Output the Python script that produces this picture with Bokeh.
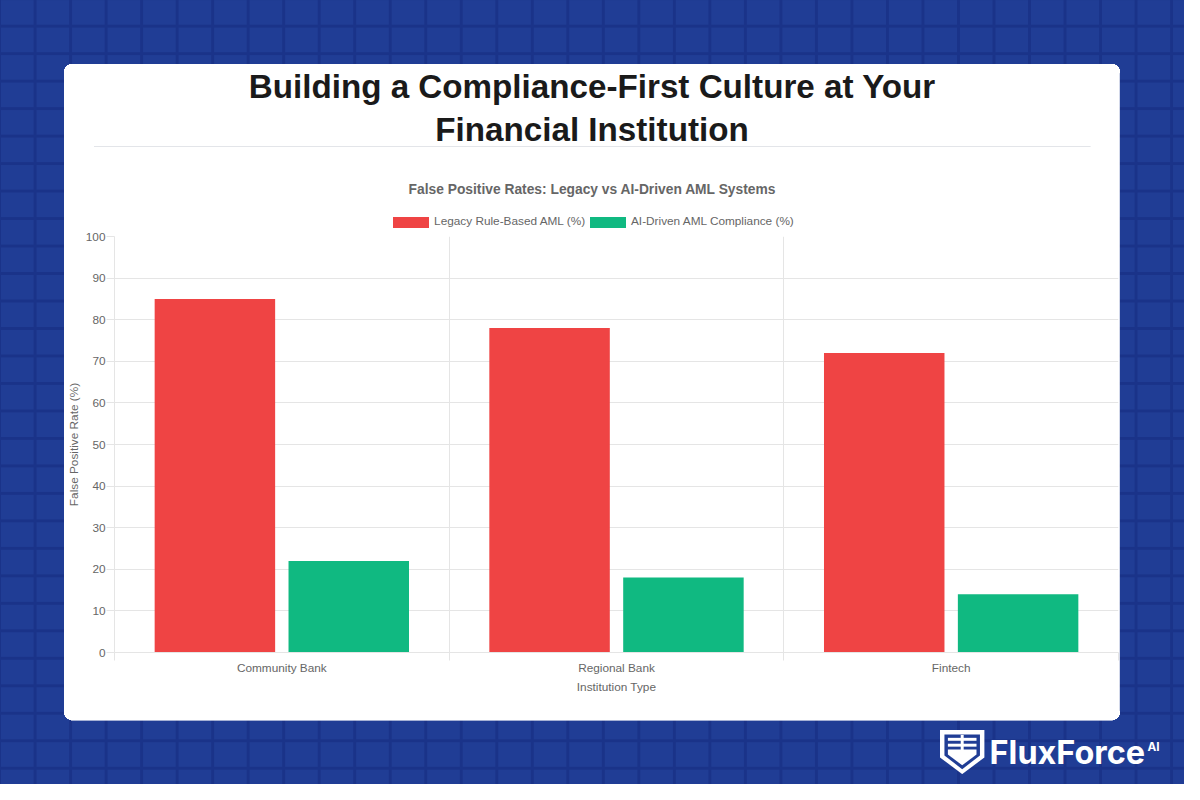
from bokeh.plotting import figure
from bokeh.layouts import column
from bokeh.models import (Range1d, FixedTicker, Div, InlineStyleSheet, ColumnDataSource)
from bokeh.embed import file_html
from bokeh.resources import INLINE

# ---------------- data ----------------
categories = ["Community Bank", "Regional Bank", "Fintech"]
legacy_rule_based = [85, 78, 72]
ai_driven = [22, 18, 14]
series_names = ["Legacy Rule-Based AML (%)", "AI-Driven AML Compliance (%)"]
y_ticks = [0, 10, 20, 30, 40, 50, 60, 70, 80, 90, 100]

main_title = ["Building a Compliance-First Culture at Your", "Financial Institution"]
chart_title = "False Positive Rates: Legacy vs AI-Driven AML Systems"
x_title = "Institution Type"
y_title = "False Positive Rate (%)"
brand = "FluxForce"
brand_sup = "AI"

RED = "#ef4444"
GREEN = "#10b981"
GRID = "#e5e5e5"
TXT = "#666666"
FONT = "Liberation Sans"
BLUE = "#203d95"

W, H = 1184, 784
SX, SY, FS = W / 1200.0, H / 800.0, 0.983
H_HEAD, H_CHART = 229, 496
H_FOOT = H - H_HEAD - H_CHART


def px(v):
    return "%.1fpx" % (v * FS)


def fx(rx):
    return rx * SX


def fy(ry):
    return ry * SY


# ---------------- header (titles + legend) ----------------
def text_div(txt, top, size, weight, color, left=None, font=FONT, center=False):
    pos = ("left:0;width:%dpx;text-align:center;" % W) if center else ("left:%.1fpx;" % left)
    return ('<div style="position:absolute;%stop:%.1fpx;font-family:\'%s\';font-size:%s;'
            'font-weight:%s;line-height:1;white-space:nowrap;color:%s">%s</div>'
            % (pos, top, font, px(size), weight, color, txt))


def top_for(baseline, size, asc=0.8465):
    return baseline - asc * size * FS


head_html = ['<div style="position:relative;width:%dpx;height:%dpx;overflow:hidden">' % (W, H_HEAD)]
head_html.append(text_div(main_title[0], top_for(fy(100), 33.8), 33.8, "bold", "#1a1a1a", center=True))
head_html.append(text_div(main_title[1], top_for(fy(144), 33.8), 33.8, "bold", "#1a1a1a", center=True))
head_html.append(text_div(chart_title, top_for(fy(199), 14), 14, "bold", TXT, center=True))
legend_colors = [RED, GREEN]
legend_box_x = [398.3, 598.3]
legend_txt_x = [440.0, 639.5]
for name, col, bx, tx in zip(series_names, legend_colors, legend_box_x, legend_txt_x):
    head_html.append('<div style="position:absolute;left:%.1fpx;top:%.1fpx;width:%.1fpx;height:%.1fpx;'
                     'background:%s"></div>' % (fx(bx), fy(221), 36 * SX, 12 * SY, col))
    head_html.append(text_div(name, top_for(fy(231), 12), 12, "normal", TXT, left=fx(tx)))
head_html.append('</div>')
head = Div(text="".join(head_html), width=W, height=H_HEAD, margin=0)

# ---------------- chart ----------------
n = len(categories)
p = figure(width=W, height=H_CHART, output_backend="svg", toolbar_location=None,
           x_range=Range1d(0, n), y_range=Range1d(0, 100),
           min_border_left=114, min_border_right=66,
           min_border_top=7, min_border_bottom=73, margin=0)
p.border_fill_color = None
p.background_fill_color = "white"
p.outline_line_color = None

idx = list(range(n))
src = ColumnDataSource(dict(
    x_leg=[i + 0.3 for i in idx],
    x_ai=[i + 0.7 for i in idx],
    legacy=legacy_rule_based,
    ai=ai_driven,
))
p.vbar(x="x_leg", top="legacy", width=0.36, source=src, fill_color=RED, line_color=None)
p.vbar(x="x_ai", top="ai", width=0.36, source=src, fill_color=GREEN, line_color=None)

p.xgrid.ticker = FixedTicker(ticks=idx + [n])
p.ygrid.ticker = FixedTicker(ticks=y_ticks)
p.grid.grid_line_color = GRID

xa = p.xaxis[0]
xa.ticker = FixedTicker(ticks=[i + 0.5 for i in idx], minor_ticks=idx + [n])
xa.major_label_overrides = {i + 0.5: c for i, c in enumerate(categories)}
xa.major_tick_out = 8
xa.major_tick_in = 0
xa.major_tick_line_color = None
xa.minor_tick_out = 8
xa.minor_tick_in = 0
xa.minor_tick_line_color = GRID
xa.axis_line_color = GRID
xa.major_label_standoff = 0
xa.axis_label = x_title
xa.axis_label_standoff = 2

ya = p.yaxis[0]
ya.ticker = FixedTicker(ticks=y_ticks)
ya.major_tick_out = 8
ya.major_tick_in = 0
ya.major_tick_line_color = GRID
ya.minor_tick_line_color = None
ya.axis_line_color = GRID
ya.major_label_standoff = 1
ya.axis_label = y_title
ya.axis_label_standoff = 2

for ax in (xa, ya):
    ax.major_label_text_font = FONT
    ax.major_label_text_font_size = px(12)
    ax.major_label_text_color = TXT
    ax.axis_label_text_font = FONT
    ax.axis_label_text_font_size = px(12)
    ax.axis_label_text_font_style = "normal"
    ax.axis_label_text_color = TXT

# ---------------- footer (logo) ----------------
top_f = H_HEAD + H_CHART
shield = (
    '<svg style="position:absolute;left:%.1fpx;top:%.1fpx" width="%.1f" height="%.1f" '
    'viewBox="953 745 45 45" preserveAspectRatio="none">'
    '<polygon points="953,745 998,745 998,773 975.5,790 953,773" fill="#ffffff"/>'
    '<polygon points="957.5,749.5 993.5,749.5 993.5,771 975.5,785 957.5,771" fill="%s"/>'
    '<rect x="961" y="753" width="29" height="3" fill="#ffffff"/>'
    '<rect x="961" y="759" width="29" height="3" fill="#ffffff"/>'
    '<rect x="974" y="750" width="3" height="16" fill="#ffffff"/>'
    '<polygon points="961,765 990,765 990,770 975.5,781 961,770" fill="#ffffff"/>'
    '</svg>' % (fx(953), fy(745) - top_f, 45 * SX, 45 * SY, BLUE)
)
foot_html = ['<div style="position:relative;width:%dpx;height:%dpx;overflow:hidden">' % (W, H_FOOT), shield]
foot_html.append(text_div(brand, top_for(fy(781), 33, 0.864) - top_f, 33, "bold", "#ffffff",
                          left=fx(1003), font="Inter"))
foot_html.append(text_div(brand_sup, top_for(fy(767), 12, 0.864) - top_f, 12, "bold", "#ffffff",
                          left=fx(1163), font="Inter"))
foot_html.append('</div>')
foot = Div(text="".join(foot_html), width=W, height=H_FOOT, margin=0)

# background: blue tiles, white rounded card, separator rule
cx, cy, cw, ch, r = 64.1, 63.7, 1055.8, 656.6, 7
circ = "radial-gradient(circle closest-side, #ffffff 96%, rgba(255,255,255,0) 100%)"
layers = [
    ("linear-gradient(#e3e5e9, #e3e5e9)", "996.6px 1px", "93.7px 145.5px", "no-repeat"),
    ("linear-gradient(#ffffff, #ffffff)", "%.1fpx %.1fpx" % (cw - 2 * r, ch), "%.1fpx %.1fpx" % (cx + r, cy), "no-repeat"),
    ("linear-gradient(#ffffff, #ffffff)", "%.1fpx %.1fpx" % (cw, ch - 2 * r), "%.1fpx %.1fpx" % (cx, cy + r), "no-repeat"),
    (circ, "%dpx %dpx" % (2 * r, 2 * r), "%.1fpx %.1fpx" % (cx, cy), "no-repeat"),
    (circ, "%dpx %dpx" % (2 * r, 2 * r), "%.1fpx %.1fpx" % (cx + cw - 2 * r, cy), "no-repeat"),
    (circ, "%dpx %dpx" % (2 * r, 2 * r), "%.1fpx %.1fpx" % (cx, cy + ch - 2 * r), "no-repeat"),
    (circ, "%dpx %dpx" % (2 * r, 2 * r), "%.1fpx %.1fpx" % (cx + cw - 2 * r, cy + ch - 2 * r), "no-repeat"),
    ("linear-gradient(to right, #1a3389 3px, transparent 3px)", "35.52px 27.49px", "33.6px 24.7px", "repeat"),
    ("linear-gradient(to bottom, #1a3389 3px, transparent 3px)", "35.52px 27.49px", "33.6px 24.7px", "repeat"),
]
css = """
:host {
  overflow: hidden;
  background-color: %s;
  background-image: %s;
  background-size: %s;
  background-position: %s;
  background-repeat: %s;
}
""" % (BLUE, ", ".join(l[0] for l in layers), ", ".join(l[1] for l in layers),
       ", ".join(l[2] for l in layers), ", ".join(l[3] for l in layers))

layout = column(head, p, foot, spacing=0, width=W, height=H, margin=0,
                stylesheets=[InlineStyleSheet(css=css)])

open("out.html", "w").write(file_html(layout, INLINE))
